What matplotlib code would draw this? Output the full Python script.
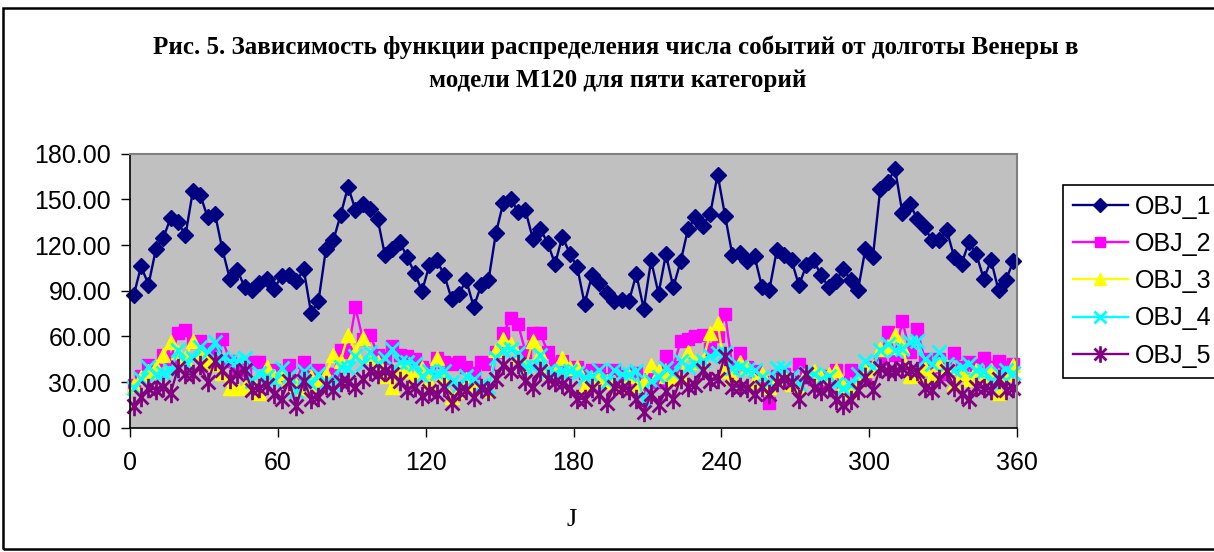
import matplotlib
matplotlib.use("Agg")
import matplotlib.pyplot as plt
from matplotlib.path import Path
from matplotlib.patches import Rectangle
import numpy as np

# ---- data ----
J = [1.5 + 3 * i for i in range(120)]

OBJ_1 = [87.0, 106.0, 94.0, 117.1, 124.8, 137.7, 135.0, 126.3, 155.4, 153.0,
         138.3, 140.5, 117.1, 97.9, 103.8, 92.4, 90.7, 95.0, 97.9, 91.3,
         99.4, 100.5, 96.1, 104.0, 75.4, 83.2, 117.1, 123.0, 139.8, 158.4,
         143.1, 147.0, 143.8, 137.2, 113.2, 117.1, 121.9, 112.1, 101.6, 89.8,
         106.6, 109.9, 100.5, 84.8, 88.1, 96.8, 79.3, 93.5, 96.8, 127.8,
         147.7, 150.3, 142.0, 142.7, 124.1, 130.7, 121.3, 107.7, 125.6, 114.3,
         105.5, 81.5, 100.1, 95.0, 88.5, 83.2, 83.7, 83.2, 100.7, 78.2,
         109.9, 88.1, 113.8, 92.4, 109.3, 130.7, 138.3, 132.8, 140.5, 166.3,
         139.4, 113.2, 114.7, 109.3, 112.5, 92.4, 90.7, 116.5, 113.2, 109.9,
         93.5, 106.6, 109.9, 100.1, 92.4, 96.1, 104.4, 96.8, 90.7, 117.6,
         112.1, 156.9, 161.3, 170.0, 140.9, 147.1, 137.2, 131.8, 123.0, 123.0,
         129.6, 112.1, 107.7, 121.9, 113.8, 97.9, 109.9, 90.2, 96.8, 109.5]

OBJ_2 = [28, 34, 41, 38, 48, 45, 62, 64, 56, 57, 52, 50, 58, 44, 38, 38, 43,
         43, 36, 38, 34, 41, 31, 43, 33, 38, 35, 35, 51, 50, 79, 58, 61, 48,
         46, 54, 48, 47, 45, 40, 38, 46, 43, 42, 43, 40, 36, 43, 42, 50, 62,
         72, 68, 50, 62, 62, 50, 42, 44, 37, 40, 36, 38, 38, 32, 38, 34, 30, 36,
         26, 32, 30, 47, 40, 57, 58, 60, 61, 52, 60, 75, 40, 49, 40, 37, 30,
         16, 34, 35, 30, 42, 33, 32, 29, 34, 38, 30, 38, 36, 33, 40, 45, 63,
         48, 70, 50, 65, 45, 40, 45, 35, 49, 40, 43, 41, 46, 40, 44, 40, 42]

OBJ_3 = [28, 33, 37, 40, 48, 56, 50, 46, 57, 50, 44, 42, 36, 26, 26, 27, 30,
         23, 40, 34, 36, 32, 28, 26, 33, 29, 35, 48, 44, 61, 50, 59, 47, 43,
         34, 27, 38, 37, 33, 39, 30, 46, 34, 20, 24, 32, 29, 27, 25, 51, 58,
         55, 47, 40, 57, 49, 37, 36, 46, 39, 40, 27, 32, 34, 31, 30, 27, 34, 28,
         31, 41, 37, 34, 32, 34, 50, 43, 44, 62, 69, 37, 33, 43, 40, 31, 35,
         27, 32, 35, 29, 27, 36, 37, 33, 35, 38, 28, 24, 32, 38, 40, 52, 53,
         61, 53, 34, 36, 39, 34, 42, 40, 29, 36, 32, 38, 33, 38, 23, 35, 41]

OBJ_4 = [26, 32, 40, 35, 36, 37, 51, 43, 46, 53, 50, 56, 46, 44, 44, 46, 31,
         36, 34, 31, 39, 34, 24, 37, 29, 35, 30, 29, 40, 39, 47, 42, 50, 42,
         46, 52, 43, 43, 42, 34, 37, 36, 37, 30, 28, 34, 32, 28, 27, 46, 51,
         52, 49, 40, 40, 48, 37, 36, 37, 37, 36, 33, 34, 38, 30, 38, 35, 35, 37,
         18, 31, 33, 39, 36, 44, 40, 42, 44, 47, 49, 49, 39, 40, 38, 38, 33,
         30, 39, 39, 34, 29, 36, 35, 32, 34, 29, 26, 28, 35, 44, 40, 51, 55,
         51, 52, 56, 57, 45, 42, 50, 42, 38, 40, 42, 38, 37, 30, 36, 38, 36]

OBJ_5 = [14, 20, 26, 25, 27, 23, 39, 35, 35, 41, 30, 44, 38, 32, 35, 38, 25,
         26, 28, 22, 19, 31, 14, 31, 19, 20, 28, 25, 30, 30, 27, 32, 37, 35,
         37, 35, 31, 25, 27, 21, 24, 22, 27, 16, 24, 25, 20, 26, 24, 32, 41,
         37, 42, 31, 27, 37, 32, 30, 29, 26, 19, 19, 26, 22, 16, 27, 26, 25, 19,
         10, 22, 15, 24, 19, 32, 27, 28, 38, 31, 32, 47, 27, 27, 26, 22, 27,
         22, 30, 32, 30, 19, 35, 26, 24, 27, 18, 15, 18, 25, 33, 25, 39, 37,
         37, 39, 38, 37, 26, 25, 32, 37, 27, 22, 19, 27, 26, 25, 32, 25, 26]

series_names = ["OBJ_1", "OBJ_2", "OBJ_3", "OBJ_4", "OBJ_5"]
x_ticks = [0, 60, 120, 180, 240, 300, 360]
y_ticks = [0, 30, 60, 90, 120, 150, 180]
title_lines = ["Рис. 5. Зависимость функции распределения числа событий от долготы Венеры в",
               "модели М120 для пяти категорий"]
x_label = "J"

# ---- style ----
W, H = 1214, 552
fig = plt.figure(figsize=(W / 100, H / 100), dpi=100)
fig.patch.set_facecolor("white")

ax = fig.add_axes([130 / W, 1 - 427.7 / H, 887 / W, 274 / H])
ax.set_facecolor("#C0C0C0")

star = Path([(0, -1), (0, 1), (-0.72, -0.72), (0.72, 0.72), (-0.72, 0.72), (0.72, -0.72)],
            [Path.MOVETO, Path.LINETO, Path.MOVETO, Path.LINETO, Path.MOVETO, Path.LINETO])

styles = [
    dict(color="#000080", marker="D", ms=8.5, mec="#000080", mfc="#000080", lw=1.7),
    dict(color="#FF00FF", marker="s", ms=8, mec="#FF00FF", mfc="#FF00FF", lw=1.7),
    dict(color="#FFFF00", marker="^", ms=10.5, mec="#FFFF00", mfc="#FFFF00", lw=1.7),
    dict(color="#00FFFF", marker="x", ms=9.5, mec="#00FFFF", mew=2.0, lw=1.7),
    dict(color="#800080", marker=star, ms=14, mec="#800080", mew=2.0, lw=1.7),
]
data = [OBJ_1, OBJ_2, OBJ_3, OBJ_4, OBJ_5]
handles = []
for name, ys, st in zip(series_names, data, styles):
    h, = ax.plot(J, ys, label=name, clip_on=False, **st)
    handles.append(h)

ax.set_xlim(0, 360)
ax.set_ylim(0, 180)
ax.set_xticks(x_ticks)
ax.set_yticks(y_ticks)
ax.set_yticklabels([f"{v:.2f}" for v in y_ticks])
ax.set_xticklabels([str(v) for v in x_ticks])
ax.tick_params(axis="both", direction="out", length=6.5, width=1, color="black",
               labelsize=18, pad=7)
ax.tick_params(axis="x", pad=10)
for lab in ax.get_xticklabels() + ax.get_yticklabels():
    lab.set_fontfamily("Liberation Sans")
for s in ["left", "bottom"]:
    ax.spines[s].set_color("black")
    ax.spines[s].set_linewidth(1.2)
for s in ["top", "right"]:
    ax.spines[s].set_color("#808080")
    ax.spines[s].set_linewidth(1.5)

fig.text(572 / W, 1 - 520 / H, x_label, family="Liberation Serif", fontsize=19,
         ha="center", va="center")

fig.text(616 / W, 1 - 47 / H, title_lines[0], family="Liberation Serif", weight="bold",
         fontsize=18, ha="center", va="center")
fig.text(618 / W, 1 - 80 / H, title_lines[1], family="Liberation Serif", weight="bold",
         fontsize=18, ha="center", va="center")

leg = fig.legend(handles=handles, loc="upper left",
                 bbox_to_anchor=(1062.7 / W, 1 - 184.7 / H), bbox_transform=fig.transFigure,
                 borderaxespad=0, frameon=True, fancybox=False, edgecolor="black",
                 facecolor="white", framealpha=1, prop={"family": "Liberation Sans", "size": 18},
                 handlelength=2.2, handletextpad=0.3, labelspacing=0.53, borderpad=0.4,
                 markerscale=0.85)
leg.get_frame().set_linewidth(1.2)

fig.patches.append(Rectangle((3 / W, 1 - 549 / H), 1.2, (549 - 8) / H,
                             transform=fig.transFigure, fill=False, edgecolor="black",
                             linewidth=1.8))

fig.savefig("out.png", dpi=100)
